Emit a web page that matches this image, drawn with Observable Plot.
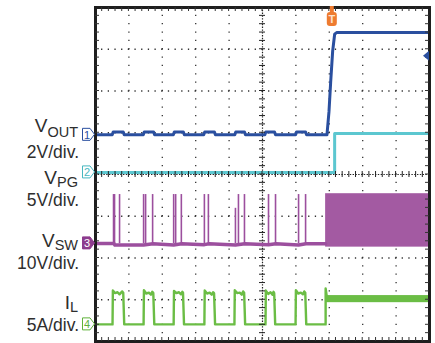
<!DOCTYPE html>
<html><head><meta charset="utf-8">
<script src="https://cdn.jsdelivr.net/npm/d3@7"></script>
<script src="https://cdn.jsdelivr.net/npm/@observablehq/plot@0.6"></script>
<style>
body{margin:0;background:#fff;}
#wrap{width:435px;height:343px;}
</style></head><body><div id="wrap"></div>
<script>
// ---- data (time in divisions 0..10, level in divisions 0..8) ----
const voutX = [0,0.5,0.53,0.83,0.86,1.43,1.46,1.74,1.77,2.33,2.36,2.63,2.66,3.24,3.27,3.56,3.59,4.17,4.2,4.46,4.49,5.07,5.1,5.36,5.39,5.99,6.02,6.29,6.32,6.93,6.99,7.04,7.1,7.16,7.22,10];
const voutY = [4.95,4.95,5.02,5.02,4.95,4.95,5.02,5.02,4.95,4.95,5.02,5.02,4.95,4.95,5.02,5.02,4.95,4.95,5.02,5.02,4.95,4.95,5.02,5.02,4.95,4.95,5.02,5.02,4.95,4.95,5.5,6.2,6.95,7.36,7.40,7.40];

const vpgX = [0,7.16,7.16,10];
const vpgY = [4.05,4.05,4.98,4.98];

const vswBaseX = [0,0.55,0.58,1.44,1.72,2.34,2.58,3.26,3.40,4.19,4.47,5.18,5.40,6.08,6.30,6.89];
const vswBaseY = [2.35,2.35,2.31,2.31,2.34,2.31,2.34,2.32,2.34,2.31,2.34,2.32,2.34,2.31,2.34,2.34];
const vswSpikeX   = [0.54,0.57,0.72,1.44,1.50,1.71,2.34,2.40,2.57,3.26,3.38,4.19,4.28,4.46,5.18,5.39,6.08,6.29];
const vswSpikeTop = [3.52,3.52,3.52,3.52,3.52,3.52,3.52,3.52,3.52,3.52,3.52,3.19,3.52,3.52,3.52,3.52,3.52,3.52];
const vswBand = {x1:6.89, x2:10, y1:2.26, y2:3.54};

const ilX = [0,0.51,0.52,0.58,0.66,0.72,0.80,0.83,0.86,
             1.44,1.45,1.52,1.60,1.66,1.70,1.73,1.76,
             2.34,2.35,2.42,2.50,2.56,2.60,2.62,2.65,
             3.26,3.27,3.34,3.42,3.48,3.52,3.55,3.58,
             4.16,4.17,4.24,4.32,4.38,4.42,4.45,4.48,
             5.09,5.10,5.17,5.24,5.30,5.33,5.35,5.38,
             5.99,6.00,6.07,6.15,6.21,6.25,6.28,6.31,
             6.89,6.89,6.93];
const ilY = [0.41,0.41,1.22,1.16,1.18,1.13,1.20,1.17,0.41,
             0.41,1.23,1.15,1.17,1.12,1.19,1.16,0.41,
             0.41,1.21,1.16,1.18,1.13,1.19,1.17,0.41,
             0.41,1.22,1.15,1.17,1.12,1.18,1.16,0.41,
             0.41,1.23,1.16,1.17,1.12,1.20,1.17,0.41,
             0.41,1.22,1.14,1.18,1.12,1.19,1.16,0.41,
             0.41,1.23,1.15,1.17,1.13,1.20,1.17,0.41,
             0.41,1.27,1.05];
const ilBand = {x1:6.89, x2:10, y1:0.93, y2:1.10};

const channelNames = ["V","V","V","I"];
const channelSubs  = ["OUT","PG","SW","L"];
const channelScales = ["2V/div.","5V/div.","10V/div.","5A/div."];
const channelNums = ["1","2","3","4"];
const channelGround = [4.95,4.05,2.35,0.41];
const gridX = [1,2,3,4,6,7,8,9];
const gridY = [1,2,3,5,6,7];
const triggerTime = 7.09;
const triggerLevel = 6.83;

// ---- styles ----
const C_VOUT="#2a4f9f", C_VPG="#5cc7d0", C_VSW="#9c4f9e", C_IL="#6bbd45", C_TXT="#2e2e2e";

const line = (xs, ys) => xs.map((x,i)=>({x, y: ys[i]}));

const plot = Plot.plot({
  width:435, height:343, marginLeft:95, marginRight:6, marginTop:7, marginBottom:2,
  x:{domain:[0,10], axis:null}, y:{domain:[0,8], axis:null},
  style:{background:"#fff", overflow:"visible"},
  marks:[
    Plot.ruleX(gridX, {stroke:"#333", strokeWidth:1.3, strokeDasharray:"1.3,7.05", strokeDashoffset:0.65}),
    Plot.ruleY(gridY, {stroke:"#333", strokeWidth:1.3, strokeDasharray:"1.3,5.38", strokeDashoffset:0.65}),
    Plot.ruleX([5], {stroke:"#222", strokeWidth:1.2, strokeDasharray:"1.4,1.4"}),
    Plot.ruleY([4], {stroke:"#222", strokeWidth:1.2, strokeDasharray:"1.4,1.4"}),
    // VPG
    Plot.line(line(vpgX, vpgY), {x:"x", y:"y", stroke:C_VPG, strokeWidth:3}),
    // VOUT
    Plot.line(line(voutX, voutY), {x:"x", y:"y", stroke:C_VOUT, strokeWidth:3}),
    // VSW
    Plot.rect([vswBand], {x1:"x1", x2:"x2", y1:"y1", y2:"y2", fill:"#a35aa2"}),
    Plot.ruleX(vswSpikeX.map((x,i)=>({x, top:vswSpikeTop[i]})), {x:"x", y1:2.34, y2:"top", stroke:C_VSW, strokeWidth:1.6}),
    Plot.line(line(vswBaseX, vswBaseY), {x:"x", y:"y", stroke:C_VSW, strokeWidth:3.5}),
    // IL
    Plot.rect([ilBand], {x1:"x1", x2:"x2", y1:"y1", y2:"y2", fill:C_IL}),
    Plot.line(line(ilX, ilY), {x:"x", y:"y", stroke:C_IL, strokeWidth:2.4}),
    Plot.frame({stroke:"#1e1e1e", strokeWidth:3})
  ]
});
document.getElementById("wrap").appendChild(plot);

// ---- decorations through the plot's scales ----
const sx = v => plot.scale("x").apply(v);
const sy = v => plot.scale("y").apply(v);
const svg = d3.select(plot);
const g = svg.append("g");
const x0 = sx(0), x1 = sx(10), y0 = sy(8), y1 = sy(0);
const minorX = d3.range(1, 50).map(i => i/5);
const minorY = d3.range(1, 40).map(i => i/5);
// border ticks
minorX.forEach(v => {
  g.append("line").attr("x1",sx(v)).attr("x2",sx(v)).attr("y1",y0).attr("y2",y0+4).attr("stroke","#333").attr("stroke-width",1);
  g.append("line").attr("x1",sx(v)).attr("x2",sx(v)).attr("y1",y1).attr("y2",y1-4).attr("stroke","#333").attr("stroke-width",1);
  g.append("line").attr("x1",sx(v)).attr("x2",sx(v)).attr("y1",sy(4)-3).attr("y2",sy(4)+3).attr("stroke","#222").attr("stroke-width",1);
});
minorY.forEach(v => {
  g.append("line").attr("y1",sy(v)).attr("y2",sy(v)).attr("x1",x0).attr("x2",x0+4).attr("stroke","#333").attr("stroke-width",1);
  g.append("line").attr("y1",sy(v)).attr("y2",sy(v)).attr("x1",x1).attr("x2",x1-4).attr("stroke","#333").attr("stroke-width",1);
  g.append("line").attr("y1",sy(v)).attr("y2",sy(v)).attr("x1",sx(5)-3).attr("x2",sx(5)+3).attr("stroke","#222").attr("stroke-width",1);
});

// channel labels: [main baseline, subscript baseline, scale baseline]
const labelBase = [[132,137,158],[184,187,206],[247,250,269],[309,312,331]];
channelNames.forEach((n,i) => {
  const t = svg.append("text").attr("x",78).attr("y",labelBase[i][0]).attr("text-anchor","end")
    .attr("font-family","'Liberation Sans', Arial, sans-serif").attr("fill",C_TXT).attr("font-size",19);
  t.append("tspan").text(n);
  t.append("tspan").attr("font-size",14.5).attr("dy",labelBase[i][1]-labelBase[i][0]).text(channelSubs[i]);
  svg.append("text").attr("x",79).attr("y",labelBase[i][2]).attr("text-anchor","end")
    .attr("font-family","'Liberation Sans', Arial, sans-serif").attr("fill",C_TXT).attr("font-size",17.5).text(channelScales[i]);
});

// channel ground markers
const mColors = [C_VOUT, "#47b7bf", "#8d3c8e", "#5fb23a"];
channelGround.forEach((lv,i) => {
  const y = sy(lv);
  const filled = i === 2;
  svg.append("path").attr("d",`M82.5,${y-6}H90L94.5,${y}L90,${y+6}H82.5Z`)
    .attr("fill", filled ? mColors[i] : "#fff").attr("stroke", mColors[i]).attr("stroke-width",1);
  svg.append("text").attr("x",87).attr("y",y+4.2).attr("text-anchor","middle")
    .attr("font-family","'Liberation Sans', Arial, sans-serif").attr("font-size",11)
    .attr("fill", filled ? "#fff" : mColors[i]).text(channelNums[i]);
});

// trigger marker
const tx = sx(triggerTime);
svg.append("rect").attr("x",tx-2).attr("y",6).attr("width",4).attr("height",7).attr("fill","#ee7b30");
svg.append("rect").attr("x",tx-5).attr("y",12).attr("width",10).attr("height",14).attr("rx",3).attr("fill","#ee7b30");
svg.append("text").attr("x",tx).attr("y",23).attr("text-anchor","middle").attr("font-family","'Liberation Sans', Arial, sans-serif")
  .attr("font-size",11).attr("font-weight","bold").attr("fill","#fde3cf").text("T");
// trigger level arrow
const ty = sy(triggerLevel);
svg.append("path").attr("d",`M${x1-6},${ty}L${x1},${ty-5}L${x1},${ty+5}Z`).attr("fill",C_VOUT);
</script></body></html>
